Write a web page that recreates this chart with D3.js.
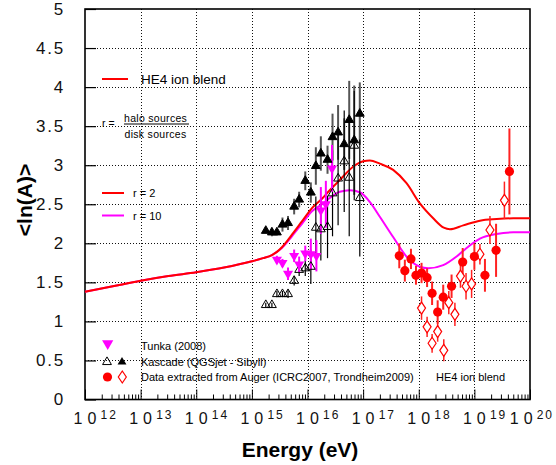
<!DOCTYPE html>
<html>
<head>
<meta charset="utf-8">
<script src="https://cdn.jsdelivr.net/npm/d3@7"></script>
<style>
  html, body { margin: 0; padding: 0; background: #fff; }
  svg { display: block; }
  .tick-lbl { font-family: "Liberation Sans", Arial, sans-serif; fill: #111; }
  .lbl { font-family: "Liberation Sans", Arial, sans-serif; fill: #000; }
</style>
</head>
<body>
<svg id="chart" width="556" height="465"></svg>
<script>
// Energies are stored as log10(E / eV); mean logarithmic mass <ln(A)>.

// Model curves: halo/disk source ratio r = 2 and r = 10
const curveR2E   = [12.0, 12.5, 13.0, 13.5, 14.0, 14.5, 15.0, 15.2, 15.36, 15.45, 15.54, 15.72, 15.9, 16.08, 16.26, 16.4, 16.58, 16.82, 17.0, 17.12, 17.3, 17.54, 17.78, 18.02, 18.26, 18.45, 18.56, 18.8, 19.1, 19.4, 19.7, 20.0];
const curveR2    = [1.38, 1.45, 1.52, 1.58, 1.63, 1.69, 1.77, 1.81, 1.85, 1.89, 1.95, 2.11, 2.28, 2.45, 2.57, 2.68, 2.81, 2.98, 3.05, 3.06, 3.02, 2.94, 2.77, 2.51, 2.32, 2.20, 2.18, 2.23, 2.29, 2.31, 2.32, 2.32];
const curveR10E  = [12.0, 12.5, 13.0, 13.5, 14.0, 14.5, 15.0, 15.2, 15.36, 15.45, 15.54, 15.72, 15.9, 16.08, 16.26, 16.4, 16.58, 16.76, 16.95, 17.12, 17.3, 17.54, 17.78, 18.02, 18.17, 18.44, 18.68, 18.86, 19.1, 19.4, 19.7, 20.0];
const curveR10   = [1.38, 1.45, 1.52, 1.58, 1.63, 1.69, 1.77, 1.81, 1.85, 1.89, 1.94, 2.09, 2.25, 2.41, 2.50, 2.58, 2.66, 2.68, 2.65, 2.53, 2.34, 2.08, 1.83, 1.70, 1.68, 1.72, 1.83, 1.94, 2.06, 2.12, 2.14, 2.14];

// Kascade (QGSjet open, Sibyll filled)
const kascadeE   = [15.25, 15.36, 15.45, 15.55, 15.65, 15.76, 15.85, 15.96, 16.06, 16.15, 16.24, 16.36, 16.45, 16.55, 16.66, 16.75, 16.84, 16.94];
const sibyll     = [2.16, 2.14, 2.14, 2.24, 2.26, 2.47, 2.56, 2.80, 2.65, 2.99, 3.15, 3.07, 3.36, 3.42, 3.27, 3.58, 3.32, 3.66];
const sibyllErr  = [0.03, 0.05, 0.04, 0.09, 0.09, 0.10, 0.10, 0.12, 0.13, 0.24, 0.22, 0.18, 0.30, 0.35, 0.33, 0.50, 0.70, 0.40];
const qgsjet     = [1.21, 1.21, 1.35, 1.35, 1.35, 1.52, 1.66, 1.68, 1.70, 2.20, 2.18, 2.21, 2.64, 2.83, 3.05, 2.84, 3.25, 2.58];
const qgsjetErr  = [0.03, 0.03, 0.04, 0.04, 0.05, 0.06, 0.08, 0.10, 0.22, 0.40, 0.40, 0.40, 0.55, 0.60, 0.65, 0.75, 0.70, 0.75];

// Tunka (2008)
const tunkaE     = [15.45, 15.55, 15.65, 15.76, 15.85, 15.96, 16.06, 16.16, 16.24, 16.33, 16.44];
const tunka      = [1.79, 1.75, 1.61, 1.84, 1.73, 1.87, 1.86, 1.84, 2.42, 2.50, 2.96];
const tunkaErr   = [0.05, 0.05, 0.08, 0.08, 0.10, 0.10, 0.20, 0.20, 0.30, 0.30, 0.30];

// Auger (ICRC2007 filled circles, Trondheim2009 open diamonds)
const augerE     = [17.65, 17.75, 17.86, 17.95, 18.05, 18.15, 18.24, 18.34, 18.44, 18.59, 18.79, 19.00, 19.19, 19.39, 19.63];
const auger      = [1.84, 1.65, 1.80, 1.59, 1.62, 1.56, 1.36, 1.12, 1.31, 1.45, 1.76, 1.83, 1.59, 1.91, 2.92];
const augerErr   = [0.16, 0.14, 0.13, 0.12, 0.13, 0.12, 0.15, 0.15, 0.16, 0.15, 0.18, 0.17, 0.21, 0.34, 0.55];
const trondE     = [18.05, 18.15, 18.24, 18.34, 18.45, 18.54, 18.65, 18.75, 18.85, 18.95, 19.10, 19.28, 19.54];
const trond      = [1.17, 0.93, 0.72, 0.87, 0.63, 1.24, 1.09, 1.58, 1.45, 1.48, 1.86, 2.17, 2.55];
const trondErr   = [0.15, 0.13, 0.12, 0.13, 0.14, 0.15, 0.15, 0.15, 0.17, 0.18, 0.13, 0.18, 0.24];

// Axis ticks
const xExponents = [12, 13, 14, 15, 16, 17, 18, 19, 20];
const yTickVals  = [0, 0.5, 1, 1.5, 2, 2.5, 3, 3.5, 4, 4.5, 5];
const yTickText  = ["0", "0.5", "1", "1.5", "2", "2.5", "3", "3.5", "4", "4.5", "5"];

const W = 556, H = 465;
const plot = { left: 85, right: 530, top: 9, bottom: 399.5 };

const svg = d3.select("#chart");
const x = d3.scaleLog().domain([1e12, 1e20]).range([plot.left, plot.right]);
const y = d3.scaleLinear().domain([0, 5]).range([plot.bottom, plot.top]);
const px = e => x(Math.pow(10, e));

const zip = (es, vs, errs) => es.map((e, i) => ({ e, v: vs[i], err: errs ? errs[i] : 0 }));

// ---- grid ----
const grid = svg.append("g").attr("stroke", "#111").attr("stroke-width", 1).attr("stroke-dasharray", "1,2");
grid.selectAll("line.h").data(yTickVals.slice(1, -1)).enter().append("line")
  .attr("x1", plot.left).attr("x2", plot.right)
  .attr("y1", d => Math.round(y(d)) + 0.5).attr("y2", d => Math.round(y(d)) + 0.5);
grid.selectAll("line.v").data(xExponents.slice(1, -1)).enter().append("line")
  .attr("y1", plot.top).attr("y2", plot.bottom)
  .attr("x1", d => Math.round(px(d)) + 0.5).attr("x2", d => Math.round(px(d)) + 0.5);

// ---- axis ticks (inward) ----
const yAxis = d3.axisLeft(y).tickValues(yTickVals).tickSize(-11).tickFormat("");
svg.append("g").attr("transform", `translate(${plot.left},0)`).call(yAxis)
  .call(g => g.select(".domain").remove())
  .call(g => g.selectAll("line").attr("stroke", "#000").attr("stroke-width", 1.2));

const minorVals = [];
for (let p = 12; p < 20; p++) for (let m = 2; m <= 9; m++) minorVals.push(m * Math.pow(10, p));
const xMajor = d3.axisBottom(x).tickValues(xExponents.map(p => Math.pow(10, p))).tickSize(-10).tickFormat("");
const xMinor = d3.axisBottom(x).tickValues(minorVals).tickSize(-5).tickFormat("");
[xMajor, xMinor].forEach(ax => {
  svg.append("g").attr("transform", `translate(0,${plot.bottom})`).call(ax)
    .call(g => g.select(".domain").remove())
    .call(g => g.selectAll("line").attr("stroke", "#000").attr("stroke-width", 1));
});

// ---- frame ----
svg.append("rect").attr("x", plot.left).attr("y", plot.top)
  .attr("width", plot.right - plot.left).attr("height", plot.bottom - plot.top)
  .attr("fill", "none").attr("stroke", "#000").attr("stroke-width", 1.6);

// ---- tick labels ----
svg.append("g").selectAll("text").data(yTickVals).enter().append("text")
  .attr("class", "tick-lbl").attr("x", 65).attr("y", d => y(d))
  .attr("text-anchor", "end").attr("dominant-baseline", "central")
  .attr("font-size", 17).attr("letter-spacing", 1.8)
  .text((d, i) => yTickText[i]);

const xl = svg.append("g");
xExponents.forEach(p => {
  const g = xl.append("g");
  const cx = px(p);
  g.append("text").attr("class", "tick-lbl").attr("x", cx).attr("y", 424)
    .attr("text-anchor", "middle").attr("font-size", 16).attr("letter-spacing", 5)
    .attr("dx", 2.5).text("10");
  const sup = g.append("text").attr("class", "tick-lbl").attr("x", cx + 15.5).attr("y", 418.5)
    .attr("font-size", 12).attr("letter-spacing", 2).text(String(p));
  const right = cx + 15.5 + sup.node().getComputedTextLength();
  if (right > W - 2) g.attr("transform", `translate(${W - 2 - right},0)`);
});

// ---- axis titles ----
svg.append("text").attr("class", "lbl").attr("x", 300).attr("y", 457)
  .attr("text-anchor", "middle").attr("font-size", 21).attr("font-weight", "bold")
  .text("Energy (eV)");
svg.append("text").attr("class", "lbl")
  .attr("transform", "translate(32,200) rotate(-90)")
  .attr("text-anchor", "middle").attr("font-size", 21).attr("font-weight", "bold")
  .text("<ln(A)>");

// ---- model curves ----
const line = d3.line().x(d => px(d.e)).y(d => y(d.v)).curve(d3.curveMonotoneX);
svg.append("path").datum(zip(curveR10E, curveR10)).attr("d", line)
  .attr("fill", "none").attr("stroke", "#ff00ff").attr("stroke-width", 2);
svg.append("path").datum(zip(curveR2E, curveR2)).attr("d", line)
  .attr("fill", "none").attr("stroke", "#ff0000").attr("stroke-width", 2);

// ---- error bars ----
function errorBars(data, color, width) {
  svg.append("g").selectAll("line").data(data).enter().append("line")
    .attr("x1", d => px(d.e)).attr("x2", d => px(d.e))
    .attr("y1", d => y(d.v - d.err)).attr("y2", d => y(d.v + d.err))
    .attr("stroke", color).attr("stroke-width", width);
}
const sibyllData = zip(kascadeE, sibyll, sibyllErr);
const qgsData = zip(kascadeE, qgsjet, qgsjetErr);
const tunkaData = zip(tunkaE, tunka, tunkaErr);
const augerData = zip(augerE, auger, augerErr);
const trondData = zip(trondE, trond, trondErr);

errorBars(sibyllData, "#555", 2);
errorBars(qgsData, "#000", 1.2);
errorBars(tunkaData, "#ff00ff", 2);
errorBars(augerData, "#f22", 2);
errorBars(trondData, "#f22", 1.5);

// ---- markers ----
const triUp = d3.symbol().type(d3.symbolTriangle).size(34);
const triDown = d3.symbol().type(d3.symbolTriangle).size(44);

function upTriangles(data, filled) {
  svg.append("g").selectAll("path").data(data).enter().append("path")
    .attr("d", triUp())
    .attr("transform", d => `translate(${px(d.e)},${y(d.v)})`)
    .attr("fill", filled ? "#000" : "#fff").attr("fill-opacity", filled ? 1 : 0)
    .attr("stroke", "#000").attr("stroke-width", 1);
}
upTriangles(qgsData, false);
upTriangles(sibyllData, true);

svg.append("g").selectAll("path").data(tunkaData).enter().append("path")
  .attr("d", triDown())
  .attr("transform", d => `translate(${px(d.e)},${y(d.v)}) rotate(180)`)
  .attr("fill", "#ff00ff");

const diamond = "M0,-6L4,0L0,6L-4,0Z";
svg.append("g").selectAll("path").data(trondData).enter().append("path")
  .attr("d", diamond)
  .attr("transform", d => `translate(${px(d.e)},${y(d.v)})`)
  .attr("fill", "#fff").attr("stroke", "#f00").attr("stroke-width", 1.2);

svg.append("g").selectAll("circle").data(augerData).enter().append("circle")
  .attr("cx", d => px(d.e)).attr("cy", d => y(d.v)).attr("r", 4.6)
  .attr("fill", "#f00");

// ---- legend (top) ----
const leg = svg.append("g");
leg.append("line").attr("x1", 102).attr("x2", 128).attr("y1", 79).attr("y2", 79)
  .attr("stroke", "#f00").attr("stroke-width", 2);
leg.append("text").attr("class", "lbl").attr("x", 141).attr("y", 84).attr("font-size", 13.5).text("HE4 ion blend");

leg.append("text").attr("class", "lbl").attr("x", 102).attr("y", 127).attr("font-size", 10.5).text("r =");
leg.append("text").attr("class", "lbl").attr("x", 124).attr("y", 121.5).attr("font-size", 10.5).attr("letter-spacing", 0.3).text("halo sources");
leg.append("line").attr("x1", 124).attr("x2", 189).attr("y1", 124).attr("y2", 124).attr("stroke", "#000").attr("stroke-width", 1);
leg.append("text").attr("class", "lbl").attr("x", 124.5).attr("y", 137.5).attr("font-size", 10.5).attr("letter-spacing", 0.3).text("disk sources");

leg.append("line").attr("x1", 102).attr("x2", 124).attr("y1", 193).attr("y2", 193)
  .attr("stroke", "#f00").attr("stroke-width", 2);
leg.append("text").attr("class", "lbl").attr("x", 133).attr("y", 197).attr("font-size", 11).text("r = 2");
leg.append("line").attr("x1", 102).attr("x2", 124).attr("y1", 215.5).attr("y2", 215.5)
  .attr("stroke", "#ff00ff").attr("stroke-width", 2);
leg.append("text").attr("class", "lbl").attr("x", 133).attr("y", 219.5).attr("font-size", 11).text("r = 10");

// ---- legend (bottom) ----
const leg2 = svg.append("g");
leg2.append("path").attr("d", d3.symbol().type(d3.symbolTriangle).size(55)())
  .attr("transform", "translate(107.7,343.5) rotate(180)").attr("fill", "#ff00ff");
leg2.append("text").attr("class", "lbl").attr("x", 141).attr("y", 350).attr("font-size", 11).text("Tunka (2008)");

leg2.append("path").attr("d", triUp()).attr("transform", "translate(107,362)")
  .attr("fill", "none").attr("stroke", "#000").attr("stroke-width", 1);
leg2.append("path").attr("d", triUp()).attr("transform", "translate(122,362)")
  .attr("fill", "#000");
leg2.append("text").attr("class", "lbl").attr("x", 141).attr("y", 365.5).attr("font-size", 11).text("Kascade (QGSjet - Sibyll)");

leg2.append("circle").attr("cx", 107.5).attr("cy", 377).attr("r", 4.6).attr("fill", "#f00");
leg2.append("path").attr("d", diamond).attr("transform", "translate(122.3,377)")
  .attr("fill", "#fff").attr("stroke", "#f00").attr("stroke-width", 1.2);
leg2.append("text").attr("class", "lbl").attr("x", 141).attr("y", 381).attr("font-size", 11).text("Data extracted from Auger (ICRC2007, Trondheim2009)");
leg2.append("text").attr("class", "lbl").attr("x", 436).attr("y", 381).attr("font-size", 11).text("HE4 ion blend");
</script>
</body>
</html>
